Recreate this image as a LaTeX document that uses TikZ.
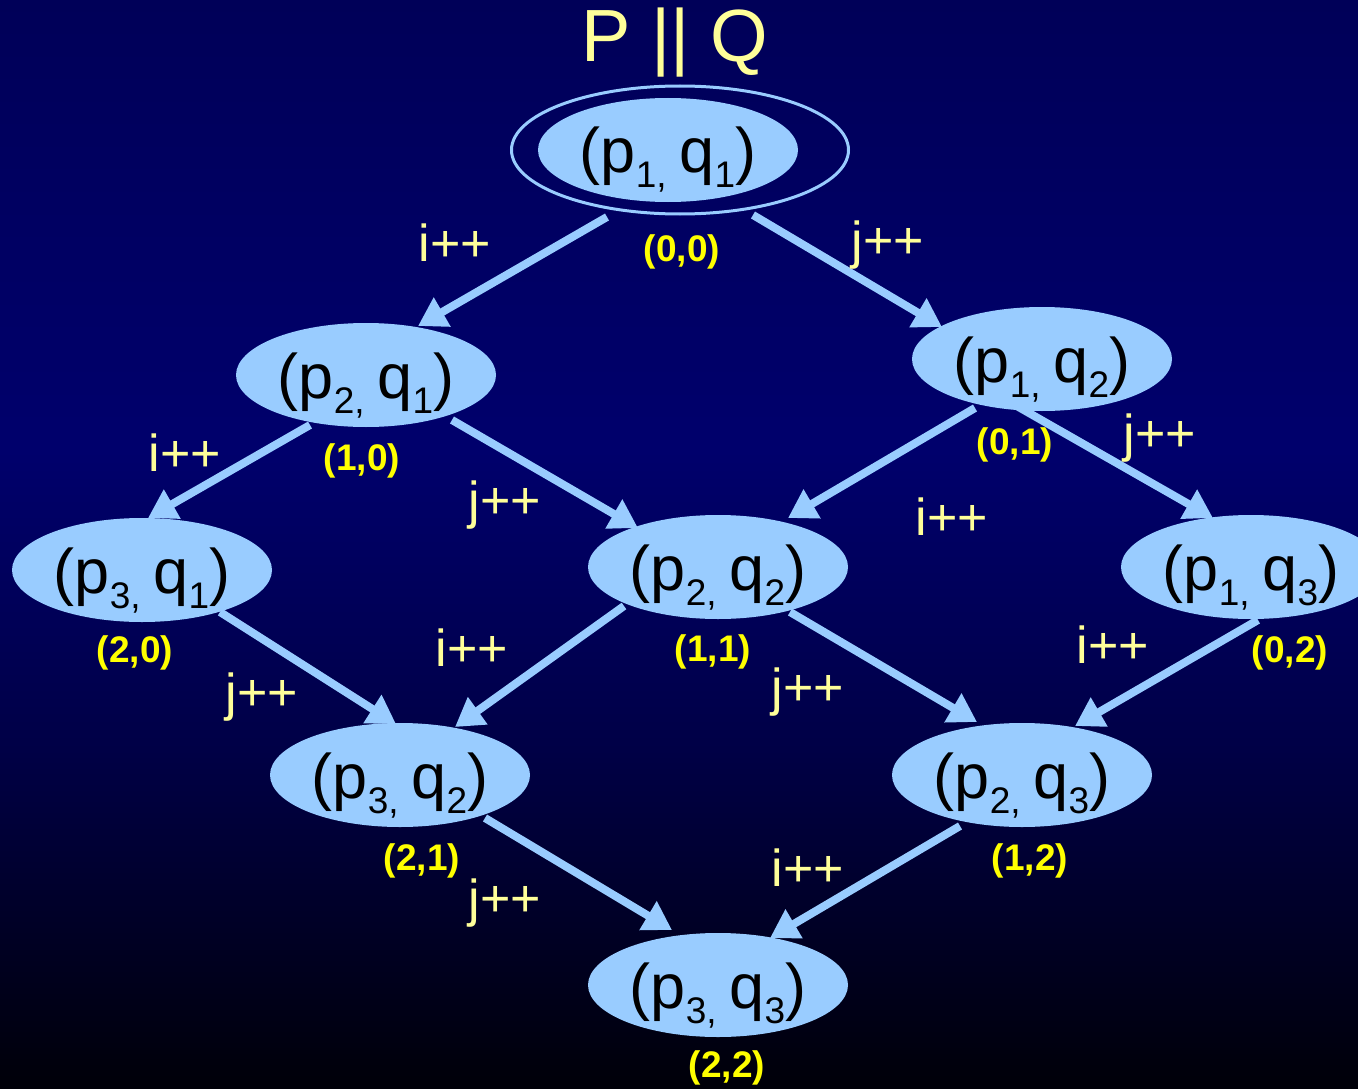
\documentclass[tikz,border=0pt]{standalone}
\usepackage{fontspec}
\setmainfont{Liberation Sans}
\usetikzlibrary{shapes.geometric,arrows.meta,calc}
\definecolor{nodeblue}{RGB}{153,204,255}
\definecolor{lab}{RGB}{255,255,153}
\definecolor{yel}{RGB}{255,255,0}
\definecolor{bgA}{RGB}{0,0,8}
\definecolor{bgB}{RGB}{0,0,70}
\definecolor{bgC}{RGB}{0,0,108}
\definecolor{bgD}{RGB}{0,0,88}
\pgfdeclareverticalshading{bgshade}{100bp}{color(0bp)=(bgA); color(25bp)=(bgA); color(40.6bp)=(bgB); color(54.3bp)=(bgC); color(75bp)=(bgD); color(100bp)=(bgD)}
\newcommand{\subs}[1]{\raisebox{-15pt}{\fontsize{37}{37}\selectfont #1}}
\newcommand{\st}[2]{\makebox[0pt]{\smash{\raisebox{-23pt}{(p\subs{#1,}\hspace{13pt}q\subs{#2})}}}}
\tikzset{
  state/.style={ellipse, fill=nodeblue, minimum width=260pt, minimum height=104pt, inner sep=0pt, text=black, font=\fontsize{63}{63}\selectfont},
  ring/.style={ellipse, draw=nodeblue, line width=3pt, minimum width=337pt, minimum height=128pt, inner sep=0pt},
  arr/.style={draw=nodeblue, line width=8pt, -{Triangle[length=28pt,width=32pt]}},
  plus/.style={text=lab, font=\fontsize{52}{52}\selectfont, inner sep=0pt},
  coord/.style={text=yel, font=\bfseries\fontsize{37}{37}\selectfont, inner sep=0pt},
  title/.style={text=lab, font=\fontsize{74}{74}\selectfont, inner sep=0pt}
}
\begin{document}
\begin{tikzpicture}[x=1pt,y=-1pt]
\useasboundingbox (0,0) rectangle (1358,1089);
\clip (0,0) rectangle (1358,1089);
\fill[shading=bgshade] (0,0) rectangle (1358,1089);

\node[title] (t) at (675,43) {P || Q};

\node[ring] (a0) at (680,150) {};
\node[state] (a) at (668,150) {\st{1}{1}};
\node[state] (b) at (366,375) {\st{2}{1}};
\node[state] (c) at (1042,359) {\st{1}{2}};
\node[state] (d) at (142,570) {\st{3}{1}};
\node[state] (e) at (718,567) {\st{2}{2}};
\node[state] (f) at (1251,567) {\st{1}{3}};
\node[state] (g) at (400,775) {\st{3}{2}};
\node[state] (h) at (1022,775) {\st{2}{3}};
\node[state] (k) at (718,985) {\st{3}{3}};

\draw[arr] ($(a)+(-61,67)$) -- ($(b)+(52,-49)$);
\draw[arr] ($(a)+(85,65)$) -- ($(c)+(-100,-32)$);
\draw[arr] ($(b)+(-56,50)$) -- ($(d)+(6,-52)$);
\draw[arr] ($(b)+(86,45)$) -- ($(e)+(-80,-39)$);
\draw[arr] ($(c)+(-67,49)$) -- ($(e)+(70,-49)$);
\draw[arr] ($(c)+(-27,46)$) -- ($(f)+(-38,-49)$);
\draw[arr] ($(d)+(78,42)$) -- ($(g)+(-4,-51)$);
\draw[arr] ($(e)+(-94,39)$) -- ($(g)+(55,-48)$);
\draw[arr] ($(e)+(72,45)$) -- ($(h)+(-45,-53)$);
\draw[arr] ($(f)+(7,53)$) -- ($(h)+(53,-49)$);
\draw[arr] ($(g)+(85,43)$) -- ($(k)+(-46,-55)$);
\draw[arr] ($(h)+(-62,51)$) -- ($(k)+(52,-47)$);

\node[plus] (l1) at (455,243) {i++};
\node[plus] (l2) at (888,245) {j++};
\node[coord] (c00) at (682,252) {(0,0)};
\node[coord] (c10) at (362,461) {(1,0)};
\node[plus] (l3) at (185,453) {i++};
\node[plus] (l4) at (505,505) {j++};
\node[coord] (c01) at (1015,445) {(0,1)};
\node[plus] (l5) at (1160,438) {j++};
\node[plus] (l6) at (952,517) {i++};
\node[coord] (c20) at (135,653) {(2,0)};
\node[plus] (l7) at (262,697) {j++};
\node[plus] (l8) at (472,648) {i++};
\node[coord] (c11) at (713,652) {(1,1)};
\node[plus] (l9) at (808,692) {j++};
\node[coord] (c02) at (1290,653) {(0,2)};
\node[plus] (l10) at (1113,645) {i++};
\node[coord] (c21) at (422,861) {(2,1)};
\node[plus] (l11) at (505,903) {j++};
\node[coord] (c12) at (1030,861) {(1,2)};
\node[plus] (l12) at (808,868) {i++};
\node[coord] (c22) at (727,1068) {(2,2)};
\end{tikzpicture}
\end{document}
